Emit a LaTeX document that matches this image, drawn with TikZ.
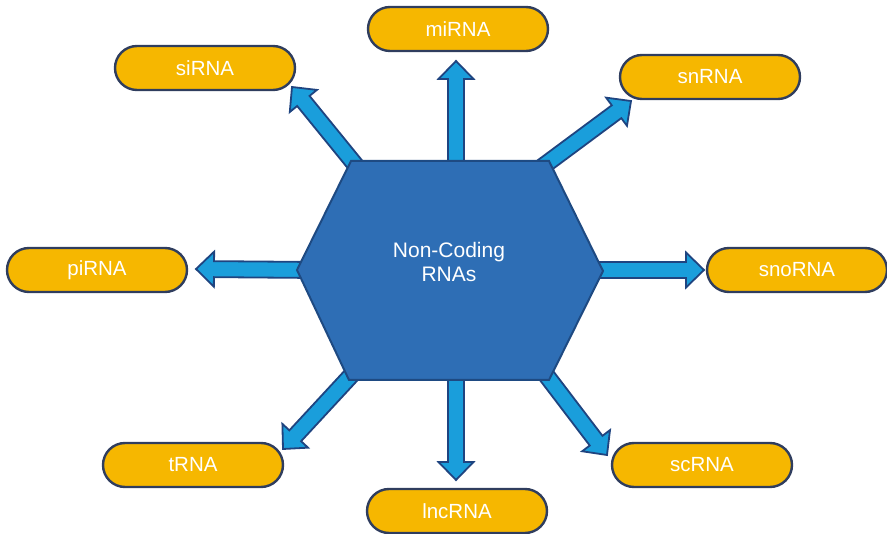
\documentclass[tikz,border=0pt]{standalone}
\usepackage{fontspec}
\setmainfont{Liberation Sans}
\usetikzlibrary{calc,shapes.misc}

\definecolor{pillfill}{HTML}{F6B700}
\definecolor{pilledge}{HTML}{2F3D5E}
\definecolor{hexfill}{HTML}{2E6EB5}
\definecolor{hexedge}{HTML}{1E4A82}
\definecolor{arrfill}{HTML}{1A9EDB}
\definecolor{arredge}{HTML}{1F4480}

% block arrow from #1 (base) to #2 (tip)
\newcommand\blockarrow[2]{%
  \coordinate (neck) at ($(#2)!18pt!(#1)$);
  \draw[arrowbody]
    ($(#1)!8pt!90:(#2)$) -- ($(neck)!8pt!90:(#2)$) -- ($(neck)!17.5pt!90:(#2)$)
    -- (#2) -- ($(neck)!17.5pt!-90:(#2)$) -- ($(neck)!8pt!-90:(#2)$)
    -- ($(#1)!8pt!-90:(#2)$) -- cycle;}

\begin{document}
\begin{tikzpicture}[x=1pt,y=-1pt,
  pill/.style={rounded rectangle, draw=pilledge, fill=pillfill, line width=2.4pt,
    minimum width=180pt, minimum height=44pt, inner sep=0pt,
    text=white, font=\fontsize{20.5}{20.5}\selectfont},
  arrowbody/.style={draw=arredge, fill=arrfill, line width=1.8pt, line join=miter},
  hexagon/.style={draw=hexedge, fill=hexfill, line width=2pt, line join=miter}]
\useasboundingbox (0,0) rectangle (887,534);

% outer categories
\node[pill] (mi)  at (458,29)  {miRNA};
\node[pill] (si)  at (205,68)  {siRNA};
\node[pill] (sn)  at (710,77)  {snRNA};
\node[pill] (pi)  at (97,270)  {piRNA};
\node[pill] (sno) at (797,270) {snoRNA};
\node[pill] (t)   at (193,465) {tRNA};
\node[pill] (lnc) at (457,511) {lncRNA};
\node[pill] (sc)  at (702,465) {scRNA};

% arrow bases (inside the hexagon) and tips
\coordinate (miB)  at (456,180); \coordinate (miT)  at (456,61);
\coordinate (siB)  at (362,173); \coordinate (siT)  at (292,87);
\coordinate (snB)  at (538,170); \coordinate (snT)  at (631,101);
\coordinate (piB)  at (315,270); \coordinate (piT)  at (196,269);
\coordinate (snoB) at (585,270); \coordinate (snoT) at (704,270);
\coordinate (tB)   at (358,368); \coordinate (tT)   at (283,449);
\coordinate (lncB) at (456,360); \coordinate (lncT) at (456,480);
\coordinate (scB)  at (540,367); \coordinate (scT)  at (607,455);

\blockarrow{miB}{miT}
\blockarrow{siB}{siT}
\blockarrow{snB}{snT}
\blockarrow{piB}{piT}
\blockarrow{snoB}{snoT}
\blockarrow{tB}{tT}
\blockarrow{lncB}{lncT}
\blockarrow{scB}{scT}

% central hexagon
\coordinate (h1) at (351,161);
\coordinate (h2) at (549,161);
\coordinate (h3) at (603,271);
\coordinate (h4) at (549,380);
\coordinate (h5) at (349,380);
\coordinate (h6) at (297,270);
\draw[hexagon] (h1) -- (h2) -- (h3) -- (h4) -- (h5) -- (h6) -- cycle;
\node[text=white, align=center, font=\fontsize{21}{24.5}\selectfont] (hub) at (449,262)
  {Non-Coding\\RNAs};
\end{tikzpicture}
\end{document}
